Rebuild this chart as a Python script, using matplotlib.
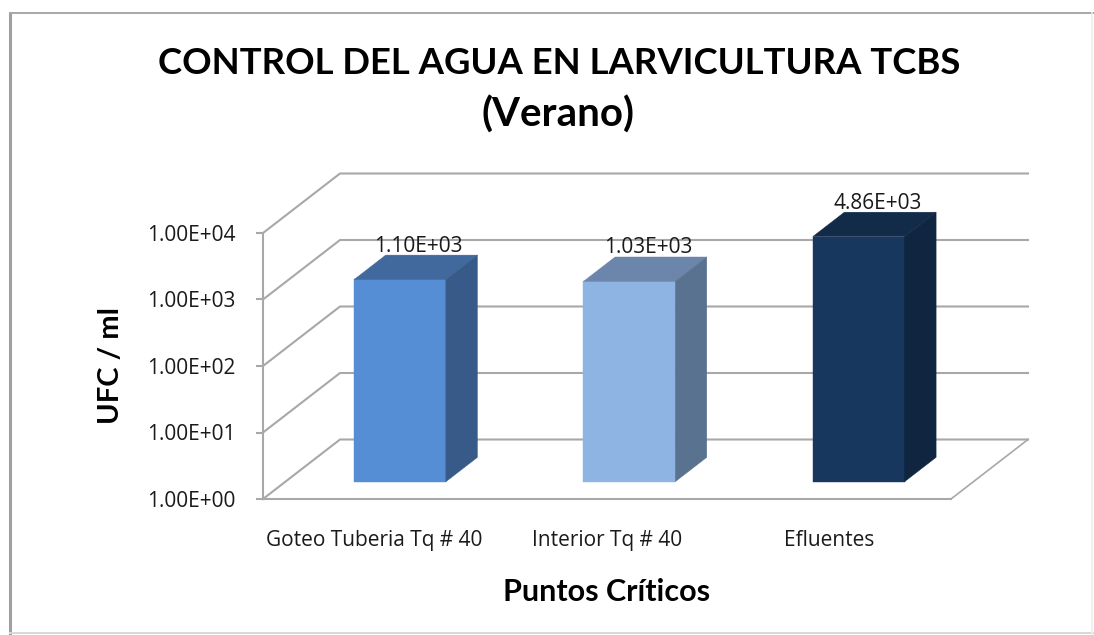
import matplotlib
matplotlib.use("Agg")
import matplotlib.pyplot as plt
from matplotlib.lines import Line2D
from matplotlib.patches import Polygon
from matplotlib.transforms import Affine2D, IdentityTransform

categories = ["Goteo Tuberia Tq # 40", "Interior Tq # 40", "Efluentes"]
values = [1100, 1030, 4860]
value_labels = ["1.10E+03", "1.03E+03", "4.86E+03"]
tick_values = [1, 10, 100, 1000, 10000]
tick_labels = ["1.00E+00", "1.00E+01", "1.00E+02", "1.00E+03", "1.00E+04"]
front_colors = ["#558ed5", "#8eb4e3", "#17375e"]
top_colors = ["#41699d", "#6b86aa", "#122b49"]
side_colors = ["#375a88", "#59728f", "#10253f"]
category_nudges = [-3, 0, -7]

W, H = 1094, 635
HEAD = "Lato"
BODY = "Open Sans"
GRID = "#a8a8a8"
fig = plt.figure(figsize=(W / 100, H / 100), dpi=100, facecolor="white")
ax = fig.add_axes([263 / W, (H - 499) / H, 688 / W, 266 / H])
ax.set_yscale("log")
ax.set_ylim(1, 10000)
ax.set_xlim(-0.5, 2.5)
ax.patch.set_alpha(0)
ax.minorticks_off()

DX, DY = 77.0, 59.5
BAR_W = 0.40
D0, D1 = 0.29, 0.70


def proj(x, v, depth=0.0):
    px, py = ax.transData.transform((x, v))
    return px + DX * depth, py + DY * depth


def line(points, color=GRID, lw=1.5, z=1):
    xs, ys = zip(*points)
    ax.add_line(Line2D(xs, ys, color=color, lw=lw, transform=IdentityTransform(),
                       clip_on=False, zorder=z))


for v in tick_values:
    line([proj(-0.5, v), proj(-0.5, v, 1), proj(2.5, v, 1)])
line([proj(2.5, 1), proj(2.5, 1, 1)], lw=1.2)


def face(points, color):
    ax.add_patch(Polygon(points, closed=True, facecolor=color, edgecolor=color, lw=0.3,
                         transform=IdentityTransform(), clip_on=False, zorder=3))


for i, v in enumerate(values):
    a, b = i - BAR_W / 2, i + BAR_W / 2
    face([proj(a, 1, D0), proj(b, 1, D0), proj(b, v, D0), proj(a, v, D0)], front_colors[i])
    face([proj(a, v, D0), proj(b, v, D0), proj(b, v, D1), proj(a, v, D1)], top_colors[i])
    face([proj(b, 1, D0), proj(b, 1, D1), proj(b, v, D1), proj(b, v, D0)], side_colors[i])
    lx, ly = proj(i, v, D1)
    ax.text(lx - 13, ly + 9, value_labels[i], transform=IdentityTransform(), ha="center", va="center",
            fontsize=15, family=BODY, color="#1a1a1a", zorder=4)

for name, sp in ax.spines.items():
    sp.set_visible(name in ("left", "bottom"))
    sp.set_color(GRID)
    sp.set_linewidth(1.5)
ax.set_yticks(tick_values)
ax.set_yticklabels(tick_labels, fontsize=15, family=BODY, color="#1a1a1a")
ax.tick_params(axis="y", which="major", length=5, width=1.5, color=GRID, pad=15)
ax.set_xticks(range(len(categories)))
ax.set_xticklabels(categories, fontsize=15, family=BODY, color="#1a1a1a")
ax.tick_params(axis="x", length=0, pad=22)
for lab, nudge in zip(ax.get_xticklabels(), category_nudges):
    lab.set_transform(lab.get_transform() + Affine2D().translate(nudge, 0))

fig.text(559 / W, 1 - 63 / H, "CONTROL DEL AGUA EN LARVICULTURA TCBS", ha="center", va="center",
         fontsize=26.3, fontweight="bold", family=HEAD, color="black")
fig.text(558 / W, 1 - 115 / H, "(Verano)", ha="center", va="center",
         fontsize=29, fontweight="bold", family=HEAD, color="black")
fig.text(606.5 / W, 1 - 592 / H, "Puntos Críticos", ha="center", va="center",
         fontsize=22, fontweight="bold", family=HEAD, color="black")
fig.text(111 / W, 1 - 365 / H, "UFC / ml", ha="center", va="center", rotation=90,
         fontsize=21, fontweight="bold", family=HEAD, color="black")

for pts, c, lw in [
    (((10, 13), (10, 635)), "#a0a0a0", 2.2),
    (((10, 13), (1094, 13)), "#a8a8a8", 1.4),
    (((10, 633), (1094, 633)), "#d8d8d8", 1.4),
    (((1092, 13), (1092, 635)), "#eeeeee", 1.2),
]:
    fig.add_artist(Line2D([p[0] / W for p in pts], [1 - p[1] / H for p in pts], color=c, lw=lw))

fig.savefig("out.png", dpi=100, facecolor="white")
